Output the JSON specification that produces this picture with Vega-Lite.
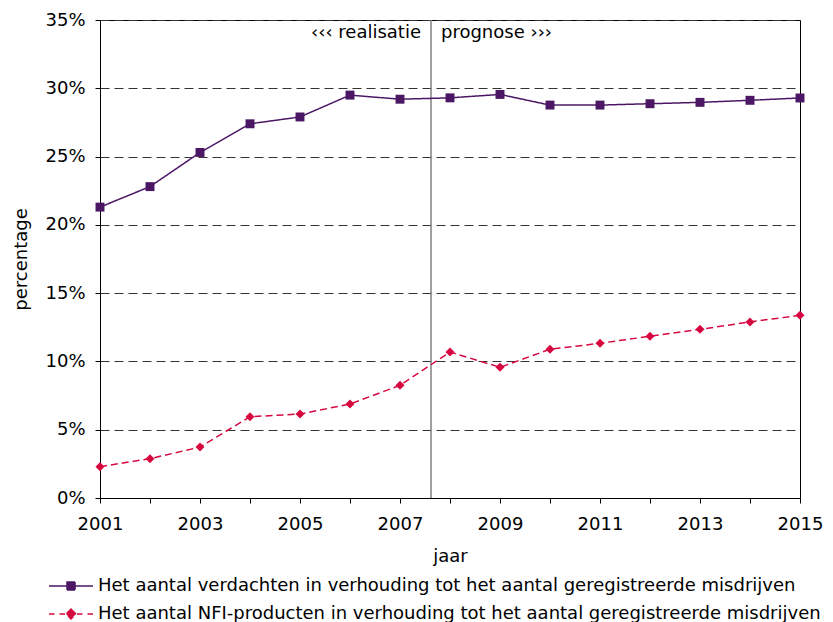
{
  "$schema": "https://vega.github.io/schema/vega-lite/v6.json",
  "width": 700,
  "height": 478,
  "autosize": {"type": "none"},
  "padding": {"left": 100, "top": 20, "right": 33, "bottom": 124},
  "background": "white",
  "config": {
    "font": "DejaVu Sans",
    "view": {"stroke": "black", "strokeWidth": 1},
    "axis": {
      "labelFontSize": 18,
      "titleFontSize": 18,
      "titleFontWeight": "normal",
      "labelColor": "black",
      "titleColor": "black",
      "domainColor": "black",
      "tickColor": "black",
      "tickSize": 5
    }
  },
  "datasets": {
    "series": [
      {"jaar": 2001, "reeks": "Het aantal verdachten in verhouding tot het aantal geregistreerde misdrijven", "waarde": 0.213},
      {"jaar": 2002, "reeks": "Het aantal verdachten in verhouding tot het aantal geregistreerde misdrijven", "waarde": 0.228},
      {"jaar": 2003, "reeks": "Het aantal verdachten in verhouding tot het aantal geregistreerde misdrijven", "waarde": 0.253},
      {"jaar": 2004, "reeks": "Het aantal verdachten in verhouding tot het aantal geregistreerde misdrijven", "waarde": 0.274},
      {"jaar": 2005, "reeks": "Het aantal verdachten in verhouding tot het aantal geregistreerde misdrijven", "waarde": 0.279},
      {"jaar": 2006, "reeks": "Het aantal verdachten in verhouding tot het aantal geregistreerde misdrijven", "waarde": 0.295},
      {"jaar": 2007, "reeks": "Het aantal verdachten in verhouding tot het aantal geregistreerde misdrijven", "waarde": 0.292},
      {"jaar": 2008, "reeks": "Het aantal verdachten in verhouding tot het aantal geregistreerde misdrijven", "waarde": 0.293},
      {"jaar": 2009, "reeks": "Het aantal verdachten in verhouding tot het aantal geregistreerde misdrijven", "waarde": 0.2955},
      {"jaar": 2010, "reeks": "Het aantal verdachten in verhouding tot het aantal geregistreerde misdrijven", "waarde": 0.2877},
      {"jaar": 2011, "reeks": "Het aantal verdachten in verhouding tot het aantal geregistreerde misdrijven", "waarde": 0.2877},
      {"jaar": 2012, "reeks": "Het aantal verdachten in verhouding tot het aantal geregistreerde misdrijven", "waarde": 0.2887},
      {"jaar": 2013, "reeks": "Het aantal verdachten in verhouding tot het aantal geregistreerde misdrijven", "waarde": 0.2897},
      {"jaar": 2014, "reeks": "Het aantal verdachten in verhouding tot het aantal geregistreerde misdrijven", "waarde": 0.2912},
      {"jaar": 2015, "reeks": "Het aantal verdachten in verhouding tot het aantal geregistreerde misdrijven", "waarde": 0.2929},
      {"jaar": 2001, "reeks": "Het aantal NFI-producten in verhouding tot het aantal geregistreerde misdrijven", "waarde": 0.0229},
      {"jaar": 2002, "reeks": "Het aantal NFI-producten in verhouding tot het aantal geregistreerde misdrijven", "waarde": 0.0288},
      {"jaar": 2003, "reeks": "Het aantal NFI-producten in verhouding tot het aantal geregistreerde misdrijven", "waarde": 0.0373},
      {"jaar": 2004, "reeks": "Het aantal NFI-producten in verhouding tot het aantal geregistreerde misdrijven", "waarde": 0.0595},
      {"jaar": 2005, "reeks": "Het aantal NFI-producten in verhouding tot het aantal geregistreerde misdrijven", "waarde": 0.0615},
      {"jaar": 2006, "reeks": "Het aantal NFI-producten in verhouding tot het aantal geregistreerde misdrijven", "waarde": 0.0688},
      {"jaar": 2007, "reeks": "Het aantal NFI-producten in verhouding tot het aantal geregistreerde misdrijven", "waarde": 0.0825},
      {"jaar": 2008, "reeks": "Het aantal NFI-producten in verhouding tot het aantal geregistreerde misdrijven", "waarde": 0.1069},
      {"jaar": 2009, "reeks": "Het aantal NFI-producten in verhouding tot het aantal geregistreerde misdrijven", "waarde": 0.0957},
      {"jaar": 2010, "reeks": "Het aantal NFI-producten in verhouding tot het aantal geregistreerde misdrijven", "waarde": 0.1089},
      {"jaar": 2011, "reeks": "Het aantal NFI-producten in verhouding tot het aantal geregistreerde misdrijven", "waarde": 0.1133},
      {"jaar": 2012, "reeks": "Het aantal NFI-producten in verhouding tot het aantal geregistreerde misdrijven", "waarde": 0.1184},
      {"jaar": 2013, "reeks": "Het aantal NFI-producten in verhouding tot het aantal geregistreerde misdrijven", "waarde": 0.1235},
      {"jaar": 2014, "reeks": "Het aantal NFI-producten in verhouding tot het aantal geregistreerde misdrijven", "waarde": 0.1289},
      {"jaar": 2015, "reeks": "Het aantal NFI-producten in verhouding tot het aantal geregistreerde misdrijven", "waarde": 0.1338}
    ],
    "scheiding": [{"jaar": 2007.62, "waarde": 0.3405}]
  },
  "encoding": {
    "x": {
      "field": "jaar",
      "type": "quantitative",
      "scale": {"domain": [2001, 2015], "nice": false, "zero": false},
      "axis": {
        "title": "jaar",
        "values": [2001, 2002, 2003, 2004, 2005, 2006, 2007, 2008, 2009, 2010, 2011, 2012, 2013, 2014, 2015],
        "labelExpr": "datum.value % 2 == 1 ? format(datum.value, 'd') : ''",
        "grid": false,
        "labelPadding": 12,
        "titlePadding": 14,
        "labelFlush": false,
        "labelOverlap": false
      }
    },
    "y": {
      "field": "waarde",
      "type": "quantitative",
      "scale": {"domain": [0, 0.35], "nice": false},
      "axis": {
        "title": "percentage",
        "values": [0, 0.05, 0.1, 0.15, 0.2, 0.25, 0.3, 0.35],
        "format": ".0%",
        "grid": true,
        "gridDash": [9, 5],
        "gridColor": "#333333",
        "gridWidth": 1,
        "labelPadding": 10,
        "titlePadding": 14
      }
    }
  },
  "layer": [
    {
      "data": {"name": "scheiding"},
      "mark": {"type": "rule", "color": "#808080", "strokeWidth": 1.5},
      "encoding": {"y": null}
    },
    {
      "data": {"name": "series"},
      "mark": {"type": "line", "strokeWidth": 1.5},
      "encoding": {
        "color": {
          "field": "reeks",
          "type": "nominal",
          "sort": null,
          "scale": {
            "domain": [
              "Het aantal verdachten in verhouding tot het aantal geregistreerde misdrijven",
              "Het aantal NFI-producten in verhouding tot het aantal geregistreerde misdrijven"
            ],
            "range": ["#4b1764", "#d6083f"]
          },
          "legend": {
            "title": null,
            "orient": "none",
            "legendX": -40,
            "legendY": 555,
            "direction": "vertical",
            "padding": 0,
            "rowPadding": 8,
            "labelFontSize": 18,
            "labelColor": "black",
            "labelLimit": 900,
            "labelOffset": 16,
            "symbolSize": 400,
            "symbolStrokeWidth": 1.5,
            "encode": {
              "symbols": {
                "update": {
                  "shape": {"signal": "indexof(datum.label, 'NFI') >= 0 ? 'M-2.2,0H-1.65M-1.15,0H-0.6M0.6,0H1.15M1.65,0H2.2M0,-0.5L0.5,0L0,0.5L-0.5,0Z' : 'M-2.2,0H2.2M-0.4,-0.4H0.4V0.4H-0.4Z'"},
                  "fill": {"signal": "indexof(datum.label, 'NFI') >= 0 ? '#d6083f' : '#4b1764'"},
                  "stroke": {"signal": "indexof(datum.label, 'NFI') >= 0 ? '#d6083f' : '#4b1764'"},
                  "strokeDash": {"value": [1, 0]},
                  "opacity": {"value": 1}
                }
              }
            }
          }
        },
        "strokeDash": {
          "field": "reeks",
          "type": "nominal",
          "sort": null,
          "scale": {
            "domain": [
              "Het aantal verdachten in verhouding tot het aantal geregistreerde misdrijven",
              "Het aantal NFI-producten in verhouding tot het aantal geregistreerde misdrijven"
            ],
            "range": [[1, 0], [7, 4]]
          },
          "legend": null
        }
      }
    },
    {
      "data": {"name": "series"},
      "mark": {"type": "point", "filled": true, "opacity": 1, "size": 80},
      "encoding": {
        "color": {"field": "reeks", "type": "nominal", "sort": null},
        "shape": {
          "condition": {"test": "indexof(datum.reeks, 'NFI') >= 0", "value": "diamond"},
          "value": "square"
        }
      }
    },
    {
      "data": {"values": [{"jaar": 2007.62, "waarde": 0.3405, "tekst": "‹‹‹ realisatie"}]},
      "mark": {"type": "text", "align": "right", "baseline": "middle", "dx": -10, "fontSize": 18, "color": "black"},
      "encoding": {"text": {"field": "tekst"}}
    },
    {
      "data": {"values": [{"jaar": 2007.62, "waarde": 0.3405, "tekst": "prognose ›››"}]},
      "mark": {"type": "text", "align": "left", "baseline": "middle", "dx": 10, "fontSize": 18, "color": "black"},
      "encoding": {"text": {"field": "tekst"}}
    }
  ]
}
